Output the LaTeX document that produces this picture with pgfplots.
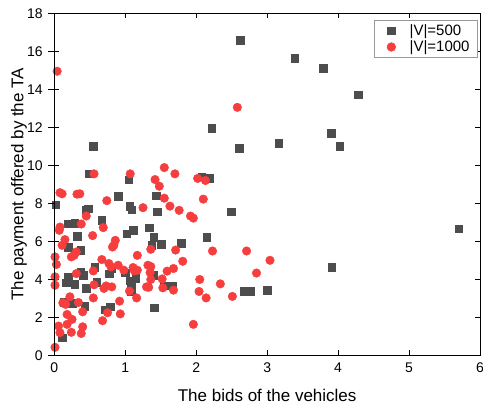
\documentclass[border=0pt]{standalone}
\usepackage{fontspec}
\setmainfont{Liberation Sans}
\usepackage{pgfplots}
\pgfplotsset{compat=1.18}
\usetikzlibrary{calc}
\definecolor{sqgray}{RGB}{77,77,77}
\definecolor{dotred}{RGB}{246,62,62}

\begin{document}
\begin{tikzpicture}
\begin{axis}[
    scale only axis, width=425.7pt, height=342pt,
    xmin=0, xmax=6, ymin=0, ymax=18,
    xtick={0,...,6}, ytick={0,2,...,18},
    tick align=inside, major tick length=5pt,
    axis line style={line width=1pt},
    tick style={line width=1pt, black},
    /pgf/number format/assume math mode=true,
    ticklabel style={font=\fontsize{14}{16}\selectfont},
    xticklabel style={yshift=-4pt},
    yticklabel style={xshift=-8pt},
    label style={font=\fontsize{17}{20}\selectfont},
    xlabel={The bids of the vehicles},
    ylabel={The payment offered by the TA},
    xlabel style={at={(axis description cs:0.5,-0.116)}, anchor=center},
    ylabel style={at={(axis description cs:-0.083,0.5)}, anchor=center},
    legend cell align=left,
    legend style={at={(rel axis cs:0.995,0.98)}, anchor=north east,
        draw=gray!80, line width=0.6pt,
        inner xsep=6pt, inner ysep=2pt, row sep=0pt,
        nodes={inner sep=2pt, font=\fontsize{15}{17}\selectfont},
        /tikz/every odd column/.append style={column sep=5pt}},
    legend image code/.code={\path (0pt,0pt) (22pt,0pt);
        \draw[#1] plot coordinates {(11pt,0pt)};},
]
% |V|=500
\addplot[only marks, mark=square*, mark size=3.8pt, draw=sqgray, fill=sqgray] coordinates {
(2.62,16.6) (2.22,11.95) (2.61,10.9) (0.55,11.0) (3.39,15.65) (3.79,15.1)
(4.28,13.72) (3.90,11.69) (3.16,11.16) (4.02,11.0) (5.70,6.67) (3.91,4.65)
(3.00,3.43) (2.08,9.40) (2.19,9.31) (1.44,8.40) (1.45,7.56) (2.49,7.56)
(1.34,6.72) (1.40,6.23) (2.15,6.23) (1.51,5.86) (1.79,5.91) (1.37,5.79)
(1.40,4.23) (1.55,3.67) (1.67,3.67) (1.41,2.50) (2.68,3.38) (2.76,3.38)
(0.49,9.55) (1.05,9.24) (0.90,8.38) (0.02,7.93) (0.48,7.72) (0.44,7.63)
(1.06,7.85) (1.09,7.66) (0.67,7.10) (0.19,6.93) (0.29,6.96) (1.11,6.58)
(1.02,6.40) (0.32,6.26) (0.20,5.69) (0.37,5.54) (0.57,4.65) (0.81,4.57)
(0.77,4.30) (0.37,4.39) (0.41,4.21) (0.20,4.11) (0.17,3.83) (0.29,3.73)
(0.45,3.53) (0.60,3.86) (1.00,4.34) (1.07,3.92) (1.08,3.65) (1.15,4.07)
(1.08,3.38) (0.13,2.81) (0.25,2.73) (0.43,2.59) (0.71,2.41) (0.79,2.55)
(0.11,0.92)
};
\addlegendentry{|V|=500}
% |V|=1000
\addplot[only marks, mark=*, mark size=4.3pt, draw=dotred, fill=dotred] coordinates {
(0.04,14.95) (2.58,13.05) (3.04,5.0) (2.85,4.33)
(1.55,9.88) (1.70,9.55) (1.42,9.25) (1.48,8.90) (1.55,8.27) (1.63,7.85)
(1.76,7.63) (1.92,7.33) (1.96,7.22) (2.02,9.31) (2.13,9.20) (2.10,8.22)
(1.36,5.58) (1.71,5.54) (2.23,5.49) (2.71,5.49) (1.81,4.95) (1.68,4.57)
(1.59,4.43) (1.36,4.67) (1.36,3.99) (1.52,4.02) (1.53,3.55) (1.68,3.43)
(2.05,3.99) (2.34,3.76) (2.04,3.36) (2.14,3.02) (2.51,3.10) (1.96,1.63)
(0.56,9.55) (1.07,9.55) (0.08,8.56) (0.11,8.50) (0.32,8.48) (0.36,8.50)
(0.74,8.14) (1.25,7.77) (0.45,7.33) (0.38,6.91) (0.08,6.75) (0.07,6.58)
(0.69,6.72) (0.54,6.30) (0.15,6.09) (0.11,5.79) (0.86,6.05) (0.84,5.79)
(0.82,5.70) (1.17,5.26) (0.31,5.44) (0.24,5.18) (0.28,5.26) (0.01,5.18)
(0.03,4.78) (0.67,5.04) (0.77,4.83) (0.80,4.65) (0.90,4.74) (0.98,4.48)
(1.11,4.62) (1.13,4.44) (1.17,4.48) (1.32,4.74) (1.35,4.36) (1.33,3.58)
(1.30,3.60) (0.55,4.44) (0.31,4.30) (0.01,4.13) (0.01,3.69) (0.56,3.71)
(0.73,3.65) (0.81,3.60) (0.70,3.52) (1.06,3.38) (1.16,3.02) (0.55,3.02)
(0.22,3.08) (0.12,2.76) (0.16,2.68) (0.34,2.78) (0.92,2.85) (0.40,2.29)
(0.75,2.24) (0.93,2.18) (0.18,2.15) (0.25,1.89) (0.68,1.82) (0.06,1.54)
(0.18,1.63) (0.40,1.50) (0.08,1.19) (0.24,1.21) (0.38,1.15) (0.01,0.42)
};
\addlegendentry{|V|=1000}
\end{axis}
% outward ticks on the left axis
\begin{axis}[
    scale only axis, width=425.7pt, height=342pt,
    xmin=0, xmax=6, ymin=0, ymax=18,
    ytick={0,2,...,18}, yticklabels={},
    axis x line=none, axis y line*=left,
    tick align=outside, major tick length=6pt,
    axis line style={line width=1pt, -},
    tick style={line width=1pt, black},
]
\end{axis}
\pgfresetboundingbox
\path[use as bounding box] ($(current axis.south west)+(-54.3pt,-49.7pt)$)
    rectangle ($(current axis.north east)+(3pt,13.3pt)$);
\end{tikzpicture}
\end{document}
